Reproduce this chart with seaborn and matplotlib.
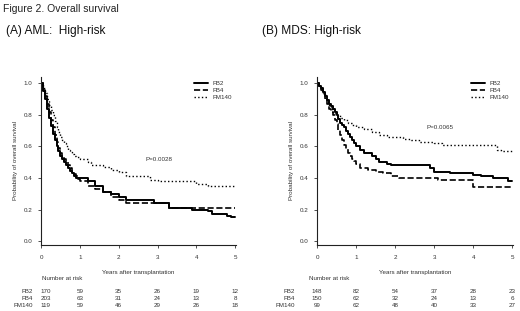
import seaborn as sns
import matplotlib.pyplot as plt
import numpy as np
import pandas as pd

# Curvas de supervivencia (tiempo en años, probabilidad)
aml_fb2_t = [0, 0.05, 0.1, 0.15, 0.2, 0.25, 0.3, 0.35, 0.4, 0.45, 0.5, 0.55, 0.6, 0.65, 0.7, 0.75, 0.8, 0.85, 0.9,
             1.1, 1.2, 1.4, 1.6, 1.8, 2.0, 2.2, 2.7, 2.9, 3.3, 3.9, 4.3, 4.4, 4.8, 4.9, 5.0]
aml_fb2_s = [1.0, 0.95, 0.9, 0.84, 0.78, 0.73, 0.68, 0.64, 0.6, 0.57, 0.54, 0.52, 0.5, 0.48, 0.46, 0.445, 0.43, 0.415, 0.40,
             0.40, 0.38, 0.35, 0.31, 0.30, 0.28, 0.26, 0.26, 0.24, 0.21, 0.20, 0.19, 0.17, 0.16, 0.15, 0.15]
aml_fb4_t = [0, 0.05, 0.1, 0.15, 0.2, 0.25, 0.3, 0.35, 0.4, 0.45, 0.5, 0.55, 0.6, 0.65, 0.7, 0.75, 0.8, 0.85, 0.9, 0.95,
             1.0, 1.2, 1.4, 1.6, 1.8, 2.0, 2.2, 3.0, 3.3, 5.0]
aml_fb4_s = [1.0, 0.96, 0.92, 0.87, 0.82, 0.77, 0.72, 0.67, 0.63, 0.59, 0.56, 0.54, 0.52, 0.5, 0.48, 0.46, 0.44, 0.425, 0.41, 0.395,
             0.38, 0.35, 0.33, 0.31, 0.28, 0.26, 0.24, 0.24, 0.21, 0.21]
aml_fm140_t = [0, 0.05, 0.1, 0.15, 0.2, 0.25, 0.3, 0.35, 0.4, 0.45, 0.5, 0.55, 0.6, 0.65, 0.7, 0.75, 0.8, 0.85, 0.9,
               1.0, 1.2, 1.3, 1.6, 1.8, 2.0, 2.2, 2.6, 2.8, 3.0, 3.8, 4.0, 4.3, 5.0]
aml_fm140_s = [1.0, 0.97, 0.94, 0.9, 0.86, 0.83, 0.8, 0.76, 0.72, 0.69, 0.66, 0.64, 0.62, 0.6, 0.58, 0.565, 0.55, 0.54, 0.53,
               0.52, 0.50, 0.48, 0.47, 0.45, 0.44, 0.41, 0.41, 0.39, 0.38, 0.38, 0.36, 0.35, 0.35]

mds_fb2_t = [0, 0.05, 0.1, 0.15, 0.2, 0.25, 0.3, 0.35, 0.4, 0.45, 0.5, 0.55, 0.6, 0.65, 0.7, 0.75, 0.8, 0.85, 0.9, 0.95,
             1.0, 1.1, 1.2, 1.4, 1.5, 1.6, 1.8, 1.9, 2.7, 2.9, 3.0, 3.4, 4.0, 4.2, 4.5, 4.9, 5.0]
mds_fb2_s = [1.0, 0.985, 0.97, 0.945, 0.92, 0.895, 0.87, 0.855, 0.84, 0.82, 0.80, 0.775, 0.75, 0.735, 0.72, 0.70, 0.68, 0.66, 0.64, 0.62,
             0.60, 0.58, 0.56, 0.54, 0.52, 0.50, 0.49, 0.48, 0.48, 0.46, 0.44, 0.43, 0.42, 0.41, 0.40, 0.38, 0.38]
mds_fb4_t = [0, 0.05, 0.1, 0.15, 0.2, 0.25, 0.3, 0.35, 0.4, 0.45, 0.5, 0.55, 0.6, 0.65, 0.7, 0.75, 0.8, 0.85, 0.9, 0.95,
             1.0, 1.1, 1.3, 1.5, 1.7, 1.9, 2.1, 3.0, 3.1, 3.9, 4.0, 5.0]
mds_fb4_s = [1.0, 0.98, 0.96, 0.93, 0.90, 0.87, 0.84, 0.82, 0.80, 0.77, 0.74, 0.705, 0.67, 0.64, 0.61, 0.585, 0.56, 0.54, 0.52, 0.505,
             0.49, 0.46, 0.45, 0.44, 0.43, 0.41, 0.40, 0.40, 0.39, 0.39, 0.34, 0.34]
mds_fm140_t = [0, 0.05, 0.1, 0.15, 0.2, 0.25, 0.3, 0.35, 0.4, 0.45, 0.5, 0.6, 0.7, 0.8, 0.9,
               1.0, 1.2, 1.4, 1.6, 1.8, 2.2, 2.4, 2.6, 3.0, 3.2, 4.5, 4.6, 4.7, 5.0]
mds_fm140_s = [1.0, 0.98, 0.96, 0.93, 0.90, 0.88, 0.86, 0.84, 0.82, 0.81, 0.80, 0.78, 0.765, 0.75, 0.735,
               0.72, 0.71, 0.69, 0.67, 0.66, 0.65, 0.64, 0.63, 0.62, 0.61, 0.61, 0.58, 0.57, 0.57]

grupos = ["FB2", "FB4", "FM140"]
anios = [0, 1, 2, 3, 4, 5]
aml_riesgo = {"FB2": [170, 59, 35, 26, 19, 12],
              "FB4": [203, 63, 31, 24, 13, 8],
              "FM140": [119, 59, 46, 29, 26, 18]}
mds_riesgo = {"FB2": [148, 82, 54, 37, 28, 23],
              "FB4": [150, 62, 32, 24, 13, 6],
              "FM140": [99, 62, 48, 40, 33, 27]}

aml = {"FB2": (aml_fb2_t, aml_fb2_s), "FB4": (aml_fb4_t, aml_fb4_s),
       "FM140": (aml_fm140_t, aml_fm140_s)}
mds = {"FB2": (mds_fb2_t, mds_fb2_s), "FB4": (mds_fb4_t, mds_fb4_s),
       "FM140": (mds_fm140_t, mds_fm140_s)}

estilos = {"FB2": ("-", 1.4), "FB4": ("--", 1.2), "FM140": (":", 1.0)}

sns.set_style("white")
plt.rcParams["font.family"] = ["Liberation Sans", "DejaVu Sans"]

fig = plt.figure(figsize=(5.2, 3.11), dpi=100)
W, H = 520, 311
GRIS = "#333333"


def panel(x0, x1, curvas, riesgo, pval, pxy, nar_x, lab_x, col0_x):
    ax = fig.add_axes([x0 / W, 1 - 245 / H, (x1 - x0) / W, (245 - 77) / H])
    for g in grupos:
        t, s = curvas[g]
        df = pd.DataFrame({"t": t, "s": s})
        ls, lw = estilos[g]
        sns.lineplot(data=df, x="t", y="s", estimator=None, drawstyle="steps-post",
                     color="black", linestyle=ls, linewidth=lw, ax=ax, label=g)
    ax.set_xlim(0, 5.02)
    ax.set_ylim(-0.025, 1.04)
    ax.set_xticks(anios)
    ax.set_yticks([0, 0.2, 0.4, 0.6, 0.8, 1.0])
    ax.set_yticklabels(["0.0", "0.2", "0.4", "0.6", "0.8", "1.0"])
    ax.tick_params(labelsize=4.5, length=2, width=0.6, pad=4, colors=GRIS,
                   bottom=True, left=True)
    ax.tick_params(axis="x", pad=5.5)
    for sp in ["top", "right"]:
        ax.spines[sp].set_visible(False)
    for sp in ["left", "bottom"]:
        ax.spines[sp].set_linewidth(0.8)
        ax.spines[sp].set_color("#222222")
    ax.set_xlabel("Years after transplantation", fontsize=4.5, labelpad=7, color=GRIS)
    ax.set_ylabel("Probability of overall survival", fontsize=4.5, labelpad=4, color=GRIS)
    leg = ax.legend(loc="upper right", bbox_to_anchor=(1.0, 1.0), frameon=False,
                    fontsize=4.5, handlelength=2.2, labelspacing=0.25, borderaxespad=0.2)
    for txt in leg.get_texts():
        txt.set_color(GRIS)
    ax.text(pxy[0], pxy[1], pval, fontsize=4.5, color=GRIS)

    # Tabla de número en riesgo (y en fracción del eje)
    trans = ax.get_xaxis_transform()
    ax.text(nar_x, -0.202, "Number at risk", fontsize=4.5, color=GRIS,
            transform=trans, ha="center", va="center")
    for i, g in enumerate(grupos):
        yy = -0.274 - i * 0.042
        ax.text(lab_x, yy, g, fontsize=4.5, color=GRIS, transform=trans,
                ha="right", va="center")
        for k, (a, n) in enumerate(zip(anios, riesgo[g])):
            xx = col0_x if k == 0 else a
            ax.text(xx, yy, str(n), fontsize=4.5, color=GRIS,
                    transform=trans, ha="center", va="center")
    return ax


panel(41, 236, aml, aml_riesgo, "P=0.0028", (2.7, 0.51), 0.54, -0.2, 0.12)
panel(317, 513, mds, mds_riesgo, "P=0.0065", (2.8, 0.71), 0.3, -0.56, 0.0)

fig.text(3 / W, 1 - 12 / H, "Figure 2. Overall survival", fontsize=7.5, color="#222222")
fig.text(6 / W, 1 - 34 / H, "(A) AML:  High-risk", fontsize=8.6, color="#111111")
fig.text(262 / W, 1 - 34 / H, "(B) MDS: High-risk", fontsize=8.6, color="#111111")

fig.savefig("out.png", dpi=100)
